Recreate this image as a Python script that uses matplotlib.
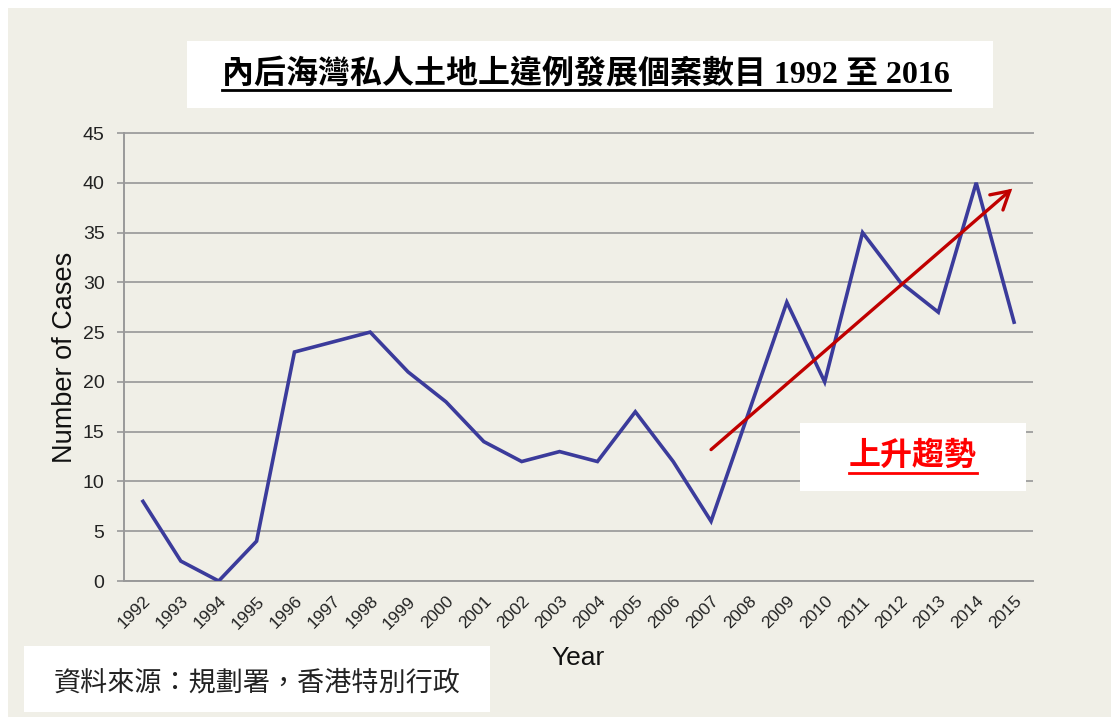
import matplotlib
matplotlib.use("Agg")
import matplotlib.pyplot as plt
from matplotlib.patches import Rectangle, FancyArrowPatch
from matplotlib.lines import Line2D

years = ["1992", "1993", "1994", "1995", "1996", "1997", "1998", "1999", "2000",
         "2001", "2002", "2003", "2004", "2005", "2006", "2007", "2008", "2009",
         "2010", "2011", "2012", "2013", "2014", "2015"]
cases = [8, 2, 0, 4, 23, 24, 25, 21, 18, 14, 12, 13, 12, 17, 12, 6, 17, 28,
         20, 35, 30, 27, 40, 26]
yticks = [0, 5, 10, 15, 20, 25, 30, 35, 40, 45]
trend_start = (15, 13.2)
trend_end = (22.95, 39.4)

title = "內后海灣私人土地上違例發展個案數目 1992 至 2016"
source = "資料來源：規劃署，香港特別行政"
trend_label = "上升趨勢"

W, H = 1111, 717
fig = plt.figure(figsize=(W / 100, H / 100), dpi=100)
fig.patch.set_facecolor("white")

def px_rect(x0, y0, x1, y1, color, z=0):
    r = Rectangle((x0 / W, 1 - y1 / H), (x1 - x0) / W, (y1 - y0) / H,
                  transform=fig.transFigure, facecolor=color, edgecolor="none",
                  zorder=z)
    fig.patches.append(r)

px_rect(8, 8, W, H, "#F0EFE7", z=0)
px_rect(187, 41, 993, 108, "white", z=1)
px_rect(24, 646, 490, 712, "white", z=1)

ax = fig.add_axes([124 / W, 1 - 581 / H, (1033 - 124) / W, (581 - 133) / H])
ax.set_facecolor("none")
ax.set_zorder(2)

x = list(range(len(years)))
ax.plot(x, cases, color="#3B3B9B", lw=2.6, solid_joinstyle="miter", zorder=3)
ax.set_xlim(-0.5, len(years) - 0.5)
ax.set_ylim(0, 45)
ax.set_yticks(yticks)
ax.set_yticklabels([str(v) for v in yticks], fontsize=14, family="Liberation Sans",
                   color="#222222")
ax.set_xticks(x)
ax.set_xticklabels(years, rotation=45, ha="right", rotation_mode="anchor",
                   fontsize=12.5, family="Liberation Sans", color="#222222")
ax.tick_params(axis="x", length=0, pad=9)
ax.tick_params(axis="y", length=5, width=1.2, color="#999999", pad=9)
ax.grid(axis="y", color="#A3A3A3", lw=1.4)
ax.set_axisbelow(True)
for s in ["top", "right"]:
    ax.spines[s].set_visible(False)
for s in ["left", "bottom"]:
    ax.spines[s].set_color("#999999")
    ax.spines[s].set_linewidth(1.4)
ax.axhline(45, color="#A3A3A3", lw=1.4, clip_on=False)

fig.text(65 / W, 1 - 357 / H, "Number of Cases", rotation=90, ha="center",
         va="center", fontsize=19.5, family="Liberation Sans", color="#111111")
fig.text(578 / W, 1 - 658 / H, "Year", ha="center", va="center",
         fontsize=19, family="Liberation Sans", color="#111111")

arrow = FancyArrowPatch(trend_start, trend_end, arrowstyle="->,head_length=7,head_width=4",
                        color="#C00000", lw=2.4, mutation_scale=1.8, zorder=4,
                        shrinkA=0, shrinkB=0, capstyle="round", joinstyle="miter")
ax.add_patch(arrow)

px_rect(800, 423, 1026, 491, "white", z=5)

t_title = fig.text(586 / W, 1 - 74 / H, title, ha="center", va="center",
                   fontsize=23, fontweight="bold",
                   family=["Liberation Serif", "Noto Sans CJK TC"], zorder=6)
t_src = fig.text(257 / W, 1 - 683 / H, source, ha="center", va="center",
                 fontsize=19.5, family=["Noto Sans CJK TC"], color="#222222",
                 fontweight="light", zorder=6)
t_trend = fig.text(913 / W, 1 - 456 / H, trend_label, ha="center", va="center",
                   fontsize=23, fontweight="bold", family=["Noto Sans CJK TC"],
                   color="#FF0000", zorder=6)

fig.canvas.draw()
r = fig.canvas.get_renderer()

def underline(t, color, offset, lw):
    bb = t.get_window_extent(r)
    y = bb.y0 - offset
    fig.add_artist(Line2D([bb.x0 / W, bb.x1 / W], [y / H, y / H],
                          transform=fig.transFigure, color=color, lw=lw, zorder=7))

underline(t_title, "black", 1, 2.0)
underline(t_trend, "#FF0000", 1, 2.0)

fig.savefig("out.png", dpi=100, facecolor=fig.get_facecolor())
